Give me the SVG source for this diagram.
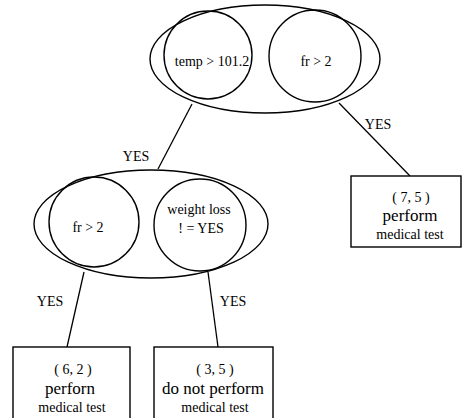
<svg xmlns="http://www.w3.org/2000/svg" width="462" height="418" viewBox="0 0 462 418">
  <style>
    .shape { fill: none; stroke: #000; stroke-width: 1.4; }
    .box { fill: #fff; stroke: #000; stroke-width: 1.4; }
    .edge { stroke: #000; stroke-width: 1.3; fill: none; }
    text { font-family: 'Liberation Serif', 'DejaVu Serif', 'Times New Roman', Times, serif; fill: #000; text-anchor: middle; }
    .cond { font-size: 14px; }
    .lbl { font-size: 14px; }
    .big { font-size: 17px; }
    .small { font-size: 14px; }
  </style>
  <rect width="462" height="418" fill="#fff"/>

  <!-- connectors -->
  <g id="connectors">
    <line class="edge" x1="192" y1="104" x2="158" y2="169"/>
    <line class="edge" x1="339" y1="103" x2="410" y2="176"/>
    <line class="edge" x1="84" y1="272" x2="67" y2="347"/>
    <line class="edge" x1="208" y1="272" x2="218" y2="347"/>
    <text class="lbl" x="136" y="161">YES</text>
    <text class="lbl" x="378" y="129">YES</text>
    <text class="lbl" x="50" y="306">YES</text>
    <text class="lbl" x="233" y="306">YES</text>
  </g>

  <!-- root test: temp and fr -->
  <g id="root">
    <ellipse class="shape" cx="265" cy="59" rx="115" ry="54"/>
    <circle class="shape" cx="208" cy="55" r="44"/>
    <circle class="shape" cx="315" cy="56" r="46"/>
    <text class="cond" x="212" y="66">temp &gt; 101.2</text>
    <text class="cond" x="316" y="66">fr &gt; 2</text>
  </g>

  <!-- second test: fr and weight loss -->
  <g id="inner">
    <ellipse class="shape" cx="151" cy="224" rx="117" ry="54"/>
    <circle class="shape" cx="94" cy="222" r="45"/>
    <circle class="shape" cx="200" cy="225" r="46"/>
    <text class="cond" x="88" y="232">fr &gt; 2</text>
    <text class="cond" x="199" y="214">weight loss</text>
    <text class="cond" x="201" y="233">! = YES</text>
  </g>

  <!-- leaf: (7, 5) -->
  <g id="leaf-right">
    <rect class="box" x="351" y="176" width="110" height="71"/>
    <text class="small" x="411" y="202">( 7, 5 )</text>
    <text class="big" x="410" y="221">perform</text>
    <text class="small" x="410" y="239">medical test</text>
  </g>

  <!-- leaf: (6, 2) -->
  <g id="leaf-left">
    <rect class="box" x="13" y="347" width="117" height="75"/>
    <text class="small" x="73" y="374">( 6, 2 )</text>
    <text class="big" x="70" y="394">perforn</text>
    <text class="small" x="72" y="412">medical test</text>
  </g>

  <!-- leaf: (3, 5) -->
  <g id="leaf-mid">
    <rect class="box" x="154" y="347" width="119" height="75"/>
    <text class="small" x="215" y="374">( 3, 5 )</text>
    <text class="big" x="213" y="394">do not perform</text>
    <text class="small" x="215" y="412">medical test</text>
  </g>
</svg>
